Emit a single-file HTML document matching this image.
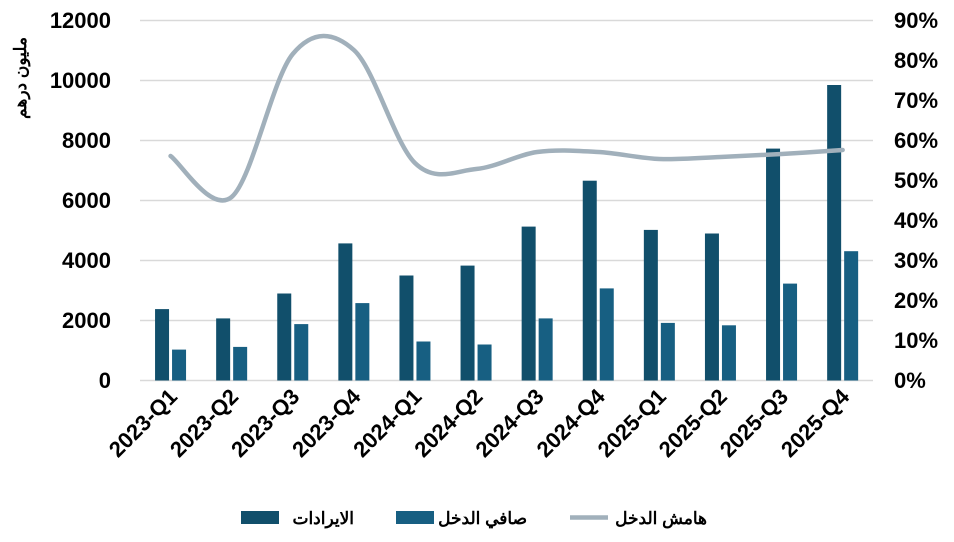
<!DOCTYPE html>
<html><head><meta charset="utf-8"><style>
body{margin:0;background:#fff;}
svg text{font-family:"Liberation Sans","Noto Sans CJK SC",sans-serif;font-weight:bold;fill:#000;}
</style></head><body>
<svg width="954" height="537" xmlns="http://www.w3.org/2000/svg">
<g stroke="#d9d9d9" stroke-width="1.5">
<line x1="140" x2="873" y1="20.5" y2="20.5"/><line x1="140" x2="873" y1="80.5" y2="80.5"/>
<line x1="140" x2="873" y1="140.5" y2="140.5"/><line x1="140" x2="873" y1="200.5" y2="200.5"/>
<line x1="140" x2="873" y1="260.5" y2="260.5"/><line x1="140" x2="873" y1="320.5" y2="320.5"/>
<line x1="140" x2="873" y1="380.5" y2="380.5"/>
</g>
<g font-size="22" text-anchor="end">
<text x="111" y="28">12000</text><text x="111" y="88">10000</text><text x="111" y="148">8000</text>
<text x="111" y="208">6000</text><text x="111" y="268">4000</text><text x="111" y="328">2000</text><text x="111" y="388">0</text>
</g>
<g font-size="22">
<text x="894" y="28">90%</text><text x="894" y="68">80%</text><text x="894" y="108">70%</text>
<text x="894" y="148">60%</text><text x="894" y="188">50%</text><text x="894" y="228">40%</text><text x="894" y="268">30%</text>
<text x="894" y="308">20%</text><text x="894" y="348">10%</text><text x="894" y="388">0%</text>
</g>
<text font-size="17" transform="translate(26,78) rotate(-90)" text-anchor="middle">مليون درهم</text>
<g id="bars"></g>
<path id="ln" fill="none" stroke="#a1b0bb" stroke-width="4.5" stroke-linecap="round"/>
<g id="xl" font-size="22" text-anchor="end"></g>
<rect x="241" y="511" width="38" height="13" fill="#114f6b"/>
<text x="354" y="524" font-size="17" text-anchor="end">الايرادات</text>
<rect x="396" y="511" width="38" height="13" fill="#175f82"/>
<text x="527" y="524" font-size="17" text-anchor="end">صافي الدخل</text>
<line x1="570" x2="608" y1="517.5" y2="517.5" stroke="#a1b0bb" stroke-width="4.5"/>
<text x="707" y="524" font-size="17" text-anchor="end">هامش الدخل</text>
</svg>
<script>
var rev=[2380,2070,2900,4570,3500,3830,5130,6660,5020,4900,7730,9850];
var ni=[1030,1120,1880,2580,1300,1200,2070,3070,1920,1840,3230,4310];
var ly=[156,197,54,50,163,169,152,152,159,157,154,150];
var labs=["2023-Q1","2023-Q2","2023-Q3","2023-Q4","2024-Q1","2024-Q2","2024-Q3","2024-Q4","2025-Q1","2025-Q2","2025-Q3","2025-Q4"];
var ns="http://www.w3.org/2000/svg",b=document.getElementById("bars"),xl=document.getElementById("xl");
var pts=[];
for(var i=0;i<12;i++){
 var c=140+30.55+61.1*i;
 var h1=rev[i]*0.03,h2=ni[i]*0.03;
 var r=document.createElementNS(ns,"rect");r.setAttribute("x",c-15.5);r.setAttribute("width",14);r.setAttribute("y",380.5-h1);r.setAttribute("height",h1);r.setAttribute("fill","#114f6b");b.appendChild(r);
 r=document.createElementNS(ns,"rect");r.setAttribute("x",c+1.5);r.setAttribute("width",14);r.setAttribute("y",380.5-h2);r.setAttribute("height",h2);r.setAttribute("fill","#175f82");b.appendChild(r);
 var t=document.createElementNS(ns,"text");t.setAttribute("transform","translate("+(c+8)+",398) rotate(-45)");t.textContent=labs[i];xl.appendChild(t);
 pts.push([c,ly[i]]);
}
var d="M"+pts[0][0]+","+pts[0][1];
for(var i=0;i<11;i++){
 var p0=pts[Math.max(i-1,0)],p1=pts[i],p2=pts[i+1],p3=pts[Math.min(i+2,11)];
 d+=" C"+(p1[0]+(p2[0]-p0[0])/6)+","+(p1[1]+(p2[1]-p0[1])/6)+" "+(p2[0]-(p3[0]-p1[0])/6)+","+(p2[1]-(p3[1]-p1[1])/6)+" "+p2[0]+","+p2[1];
}
document.getElementById("ln").setAttribute("d",d);
</script>
</body></html>
